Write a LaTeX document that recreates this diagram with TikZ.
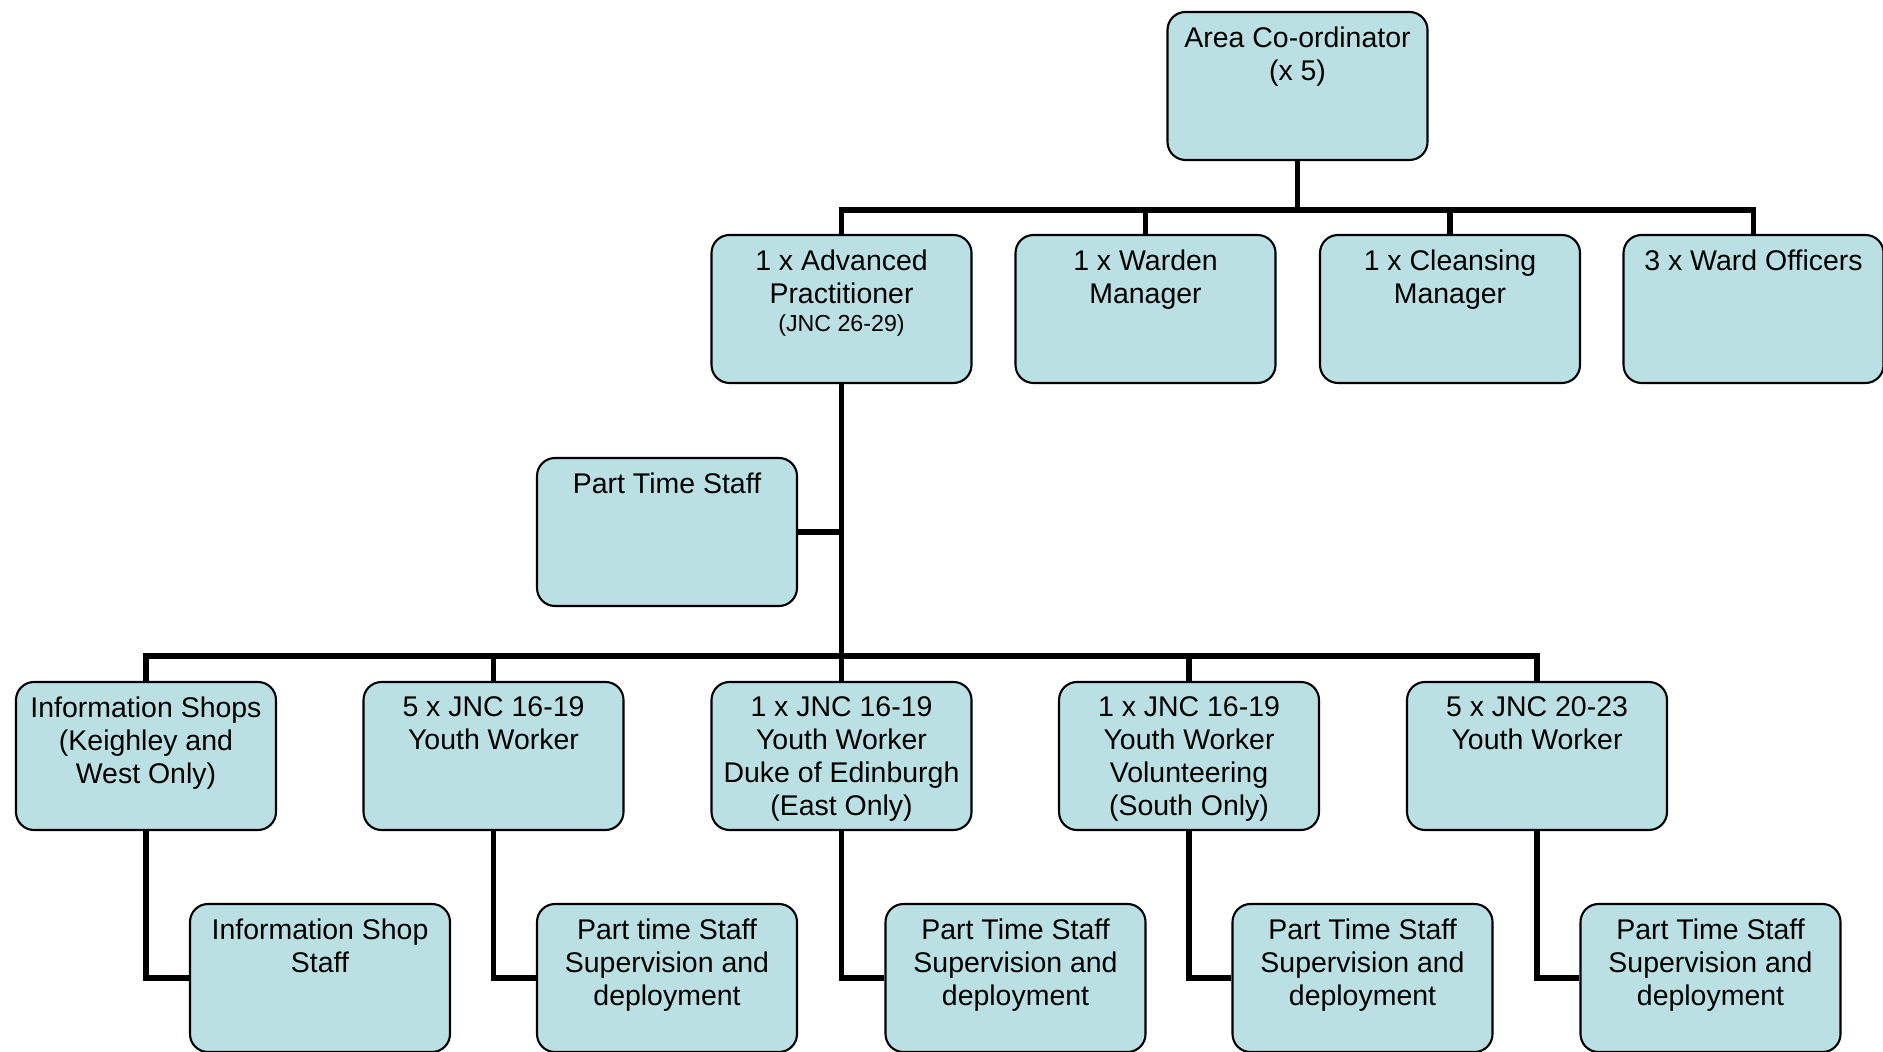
\documentclass[tikz,border=0pt]{standalone}
\usepackage{fontspec}
\setmainfont{Liberation Sans}
\definecolor{boxblue}{RGB}{187,224,227}

\begin{document}
\begin{tikzpicture}[
  every node/.style={font=\fontsize{8.1}{9.4}\selectfont},
  box/.style={rectangle, draw=black, line width=0.6pt, fill=boxblue, rounded corners=0.18cm, minimum width=2.6cm, minimum height=1.48cm, inner sep=0pt},
  boxtext/.style={anchor=north, align=center, inner sep=0pt, yshift=-0.15cm},
  conn/.style={line width=1.5pt},
]
\useasboundingbox (0,0) rectangle (18.83,-10.52);

%% Top
\node[box, label={[boxtext]north:{Area Co-ordinator\\(x 5)}}] (area) at (12.975,-0.86) {};

%% Second row
\node[box, label={[boxtext]north:{1 x Advanced\\Practitioner\\[-1.4pt]{\fontsize{6.6}{7.6}\selectfont(JNC 26-29)}}}] (adv) at (8.415,-3.09) {};
\node[box, label={[boxtext]north:{1 x Warden\\Manager}}] (warden) at (11.455,-3.09) {};
\node[box, label={[boxtext]north:{1 x Cleansing\\Manager}}] (cleansing) at (14.5,-3.09) {};
\node[box, label={[boxtext]north:{3 x Ward Officers}}] (ward) at (17.535,-3.09) {};

%% Part time staff off the trunk
\node[box, label={[boxtext]north:{Part Time Staff}}] (ptstaff) at (6.67,-5.32) {};

%% Third row
\node[box, label={[boxtext]north:{Information Shops\\(Keighley and\\West Only)}}] (info) at (1.46,-7.56) {};
\node[box, label={[boxtext]north:{5 x JNC 16-19\\Youth Worker}}] (yw1) at (4.935,-7.56) {};
\node[box, label={[boxtext]north:{1 x JNC 16-19\\Youth Worker\\Duke of Edinburgh\\(East Only)}}] (dofe) at (8.415,-7.56) {};
\node[box, label={[boxtext]north:{1 x JNC 16-19\\Youth Worker\\Volunteering\\(South Only)}}] (vol) at (11.89,-7.56) {};
\node[box, label={[boxtext]north:{5 x JNC 20-23\\Youth Worker}}] (yw2) at (15.37,-7.56) {};

%% Fourth row
\node[box, label={[boxtext]north:{Information Shop\\Staff}}] (infostaff) at (3.20,-9.78) {};
\node[box, label={[boxtext]north:{Part time Staff\\Supervision and\\deployment}}] (sup1) at (6.67,-9.78) {};
\node[box, label={[boxtext]north:{Part Time Staff\\Supervision and\\deployment}}] (sup2) at (10.155,-9.78) {};
\node[box, label={[boxtext]north:{Part Time Staff\\Supervision and\\deployment}}] (sup3) at (13.625,-9.78) {};
\node[box, label={[boxtext]north:{Part Time Staff\\Supervision and\\deployment}}] (sup4) at (17.105,-9.78) {};

%% Bus lines
\coordinate (bus2) at (0,-2.10);
\coordinate (bus3) at (0,-6.56);

%% Top to second row
\draw[conn] (area.south) -- (area.south |- bus2);
\draw[conn] (adv.north) |- (ward.north |- bus2) -- (ward.north);
\draw[conn] (warden.north) -- (warden.north |- bus2);
\draw[conn] (cleansing.north) -- (cleansing.north |- bus2);

%% Trunk down to third row
\draw[conn] (adv.south) -- (dofe.north);
\draw[conn] (ptstaff.east) -- (ptstaff.east -| adv.south);
\draw[conn] (info.north) |- (yw2.north |- bus3) -- (yw2.north);
\draw[conn] (yw1.north) -- (yw1.north |- bus3);
\draw[conn] (vol.north) -- (vol.north |- bus3);

%% Third row to fourth row
\draw[conn] (info.south) |- (infostaff.west);
\draw[conn] (yw1.south) |- (sup1.west);
\draw[conn] (dofe.south) |- (sup2.west);
\draw[conn] (vol.south) |- (sup3.west);
\draw[conn] (yw2.south) |- (sup4.west);

\end{tikzpicture}
\end{document}
